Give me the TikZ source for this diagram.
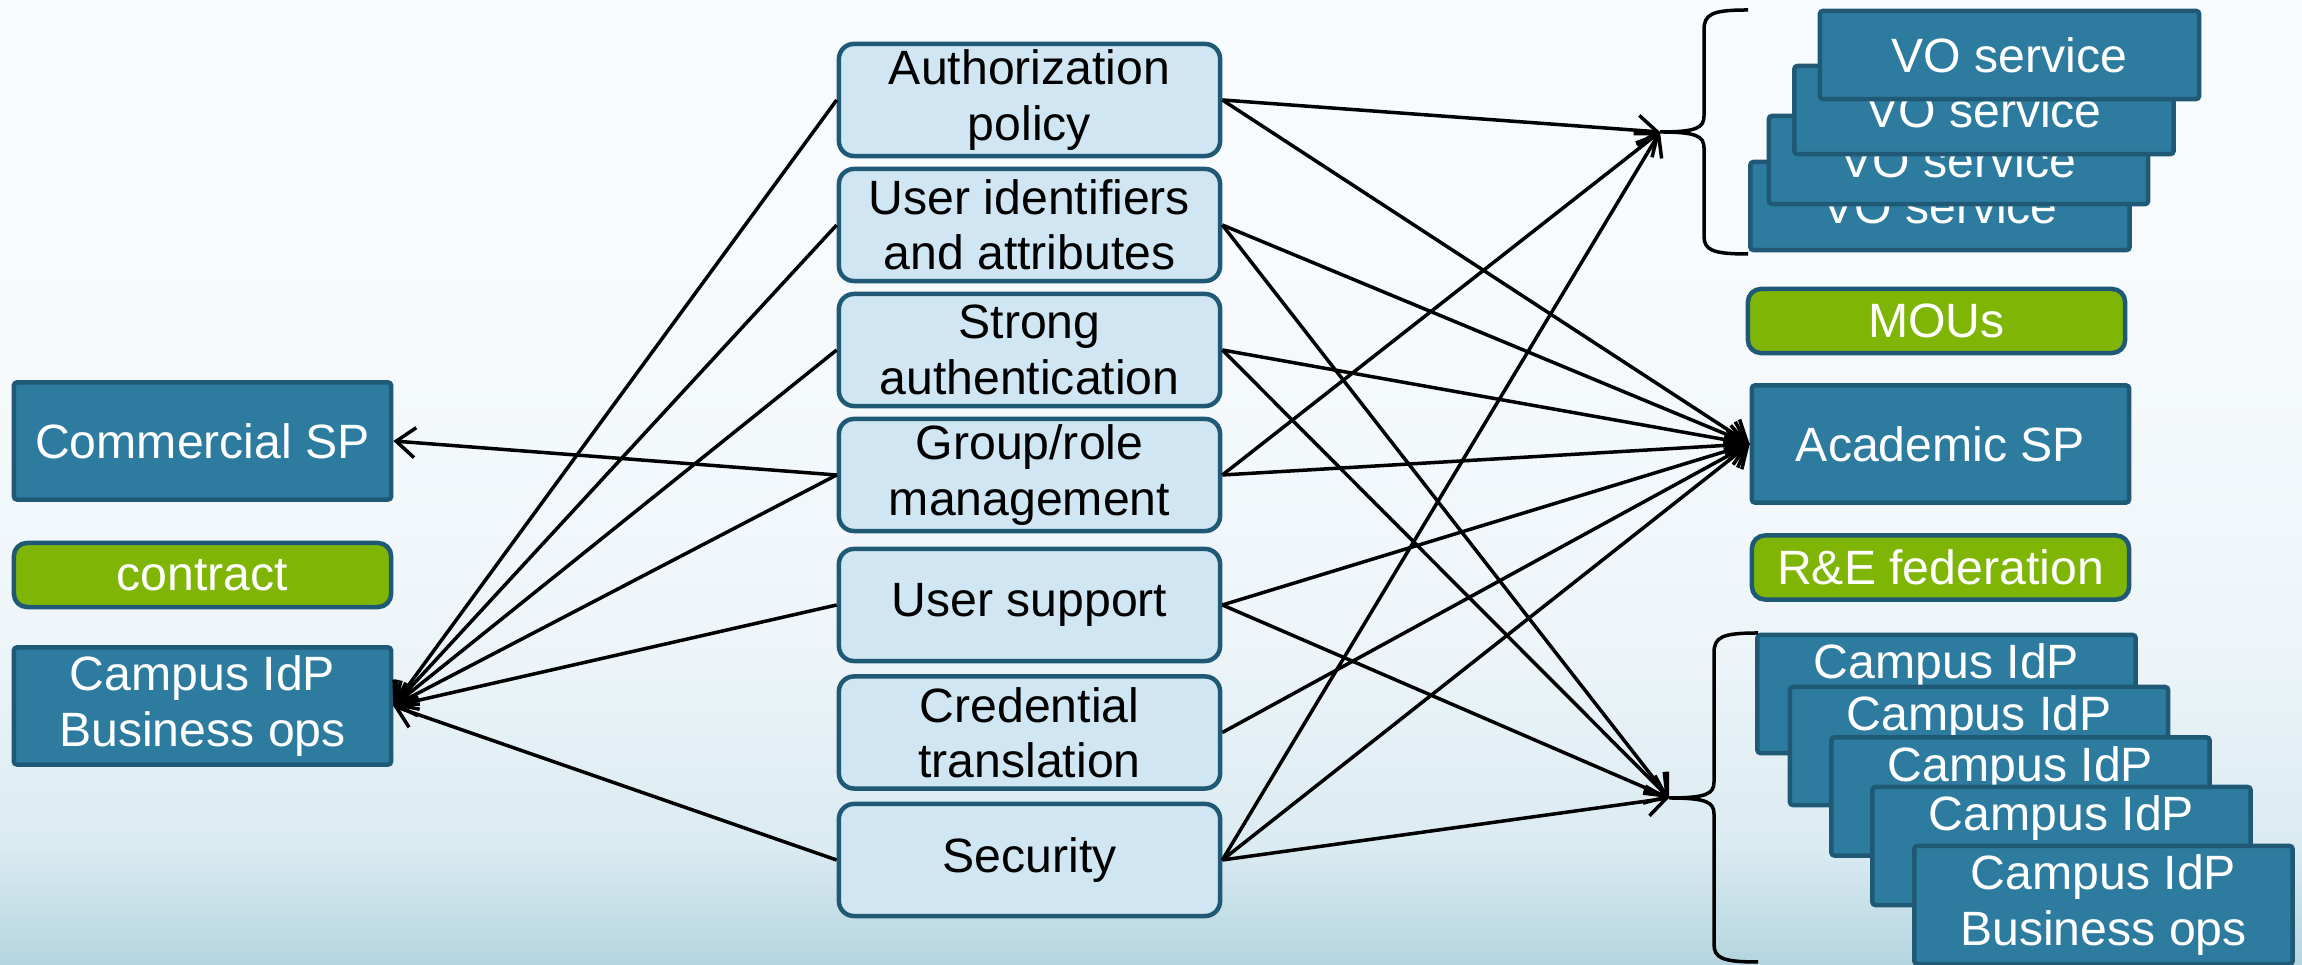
\documentclass[tikz,border=0pt]{standalone}
\usepackage{fontspec}
\setmainfont{Liberation Sans}
\usetikzlibrary{arrows.meta}
\definecolor{bgtop}{RGB}{248,251,253}
\definecolor{bgmid}{RGB}{238,245,249}
\definecolor{bglow}{RGB}{218,235,241}
\definecolor{bgbot}{RGB}{180,212,223}
\definecolor{cdark}{RGB}{45,124,159}
\definecolor{cbord}{RGB}{31,89,118}
\definecolor{clight}{RGB}{208,230,242}
\definecolor{cgreen}{RGB}{127,182,5}
\pgfdeclareverticalshading{bgshade}{100bp}{color(0bp)=(bgbot); color(25bp)=(bgbot); color(31bp)=(bglow); color(42bp)=(bgmid); color(62bp)=(bgtop); color(100bp)=(bgtop)}
\tikzset{
  txt/.style={font=\fontsize{13.7}{15.7}\selectfont},
  mbox/.style={txt, draw=cbord, fill=clight, line width=0.045cm, rounded corners=0.15cm,
    minimum width=3.81cm, minimum height=1.12cm, align=center, text=black, inner sep=0pt},
  sbox/.style={txt, draw=cbord, fill=cdark, line width=0.045cm, rounded corners=0.03cm,
    minimum width=3.77cm, minimum height=1.17cm, align=center, text=white, inner sep=0pt},
  gbox/.style={txt, draw=cbord, fill=cgreen, line width=0.045cm, rounded corners=0.13cm,
    minimum width=3.77cm, minimum height=0.64cm, text=white, inner sep=0pt},
  vobox/.style={sbox, minimum width=3.79cm, minimum height=0.88cm},
  idpbox/.style={sbox, minimum width=3.78cm, minimum height=1.18cm},
  arr/.style={-{Straight Barb[length=1.9mm,width=3mm]}, line width=0.035cm, black},
  bracel/.style={line width=0.035cm, black}
}
\begin{document}
\begin{tikzpicture}[x=0.01cm,y=-0.01cm]
\useasboundingbox (0,0) rectangle (2302,965);
\shade[shading=bgshade] (0,0) rectangle (2302,965);

% middle column
\node[mbox] (auth)     at (1029.5,100)   {Authorization\\policy};
\node[mbox] (uid)      at (1029.5,225)   {User identifiers\\and attributes};
\node[mbox] (strong)   at (1029.5,350)   {Strong\\authentication};
\node[mbox] (group)    at (1029.5,475)   {Group/role\\management};
\node[mbox] (support)  at (1029.5,605)   {User support};
\node[mbox] (cred)     at (1029.5,732.5) {Credential\\translation};
\node[mbox] (security) at (1029.5,860)   {Security};

% left column
\node[sbox] (commercial) at (202.5,441) {Commercial SP};
\node[gbox] (contract)   at (202.5,575) {contract};
\node[sbox] (campus)     at (202.5,706) {Campus IdP\\Business ops};

% right column
\node[vobox] (vo4) at (1940,206)   {VO service};
\node[vobox] (vo3) at (1958.5,160) {VO service};
\node[vobox] (vo2) at (1984,110)   {VO service};
\node[vobox] (vo1) at (2009.5,55)  {VO service};

\node[gbox] (mous)     at (1936.5,321)   {MOUs};
\node[sbox] (academic) at (1940.5,444)   {Academic SP};
\node[gbox] (ref)      at (1940.5,567.5) {R\&E federation};

\node[idpbox] (idp1) at (1946.5,694)  {Campus IdP\\Business ops};
\node[idpbox] (idp2) at (1979,746)    {Campus IdP\\Business ops};
\node[idpbox] (idp3) at (2020.5,796.5){Campus IdP\\Business ops};
\node[idpbox] (idp4) at (2061.5,846)  {Campus IdP\\Business ops};
\node[idpbox] (idp5) at (2103.5,905)  {Campus IdP\\Business ops};

% braces
\coordinate (votip) at (1660,132);
\coordinate (idptip) at (1669,798);
\draw[bracel] (1748,10) .. controls (1712,10) and (1704,14) .. (1704,30) -- (1704,116)
  .. controls (1704,128) and (1696,132) .. (votip)
  .. controls (1696,132) and (1704,136) .. (1704,148) -- (1704,236)
  .. controls (1704,250) and (1712,254) .. (1748,254);
\draw[bracel] (1758,633) .. controls (1722,633) and (1714,637) .. (1714,653) -- (1714,782)
  .. controls (1714,794) and (1706,798) .. (idptip)
  .. controls (1706,798) and (1714,802) .. (1714,814) -- (1714,944)
  .. controls (1714,958) and (1722,962) .. (1758,962);

% connectors
\foreach \n in {auth,uid,strong,group,support,security}
  \draw[arr] (\n.west) -- (campus.east);
\draw[arr] (group.west) -- (commercial.east);
\foreach \n in {auth,group,security}
  \draw[arr] (\n.east) -- (votip);
\foreach \n in {auth,uid,strong,group,support,cred,security}
  \draw[arr] (\n.east) -- (academic.west);
\foreach \n in {uid,strong,support,security}
  \draw[arr] (\n.east) -- (idptip);
\end{tikzpicture}
\end{document}
